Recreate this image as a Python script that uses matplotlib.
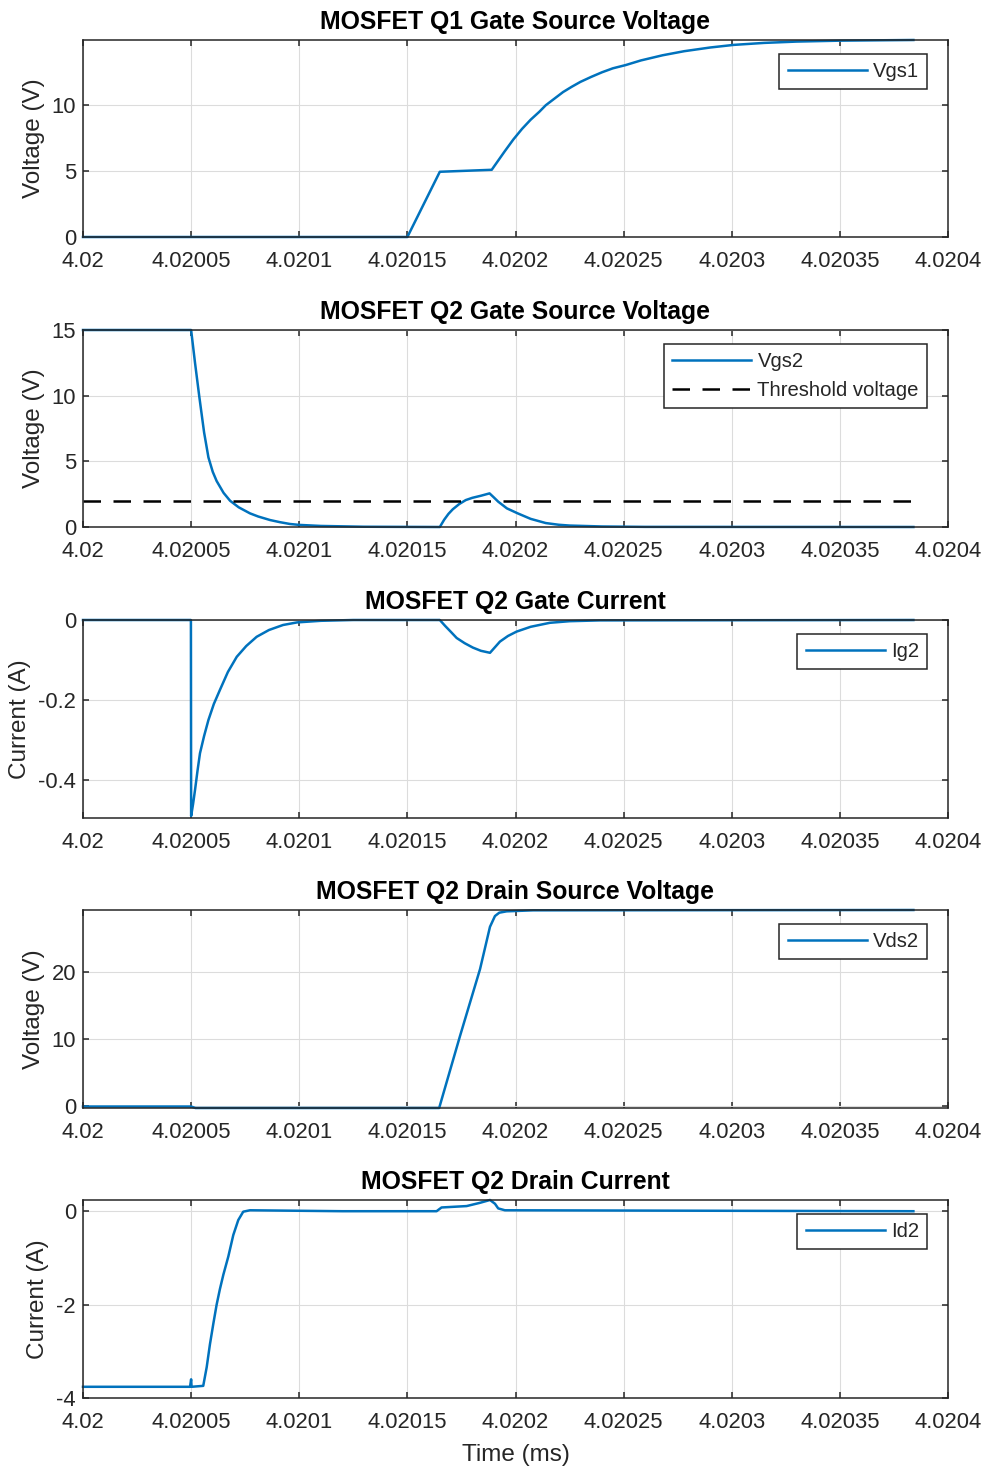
import matplotlib
matplotlib.use('Agg')
import matplotlib.pyplot as plt

# time axis (ms) and tick labels
x_ticks = [4.02, 4.02005, 4.0201, 4.02015, 4.0202, 4.02025, 4.0203, 4.02035, 4.0204]
x_tick_labels = ['4.02', '4.02005', '4.0201', '4.02015', '4.0202',
                 '4.02025', '4.0203', '4.02035', '4.0204']

# Q1 gate-source voltage
t_vgs1 = [4.02, 4.02015, 4.020165, 4.020189, 4.020192, 4.020195, 4.020199, 4.020203,
          4.020207, 4.020211, 4.020214, 4.020218, 4.020222, 4.020226, 4.02023,
          4.020235, 4.02024, 4.020245, 4.020251, 4.020258, 4.020268, 4.020278,
          4.02029, 4.020301, 4.020315, 4.02033, 4.02035, 4.02037, 4.020384]
vgs1 = [0, 0, 4.95, 5.1, 5.8, 6.5, 7.4, 8.2,
        8.9, 9.5, 10.0, 10.5, 11.0, 11.4, 11.77,
        12.15, 12.5, 12.8, 13.05, 13.4, 13.79, 14.1,
        14.38, 14.58, 14.73, 14.83, 14.9, 14.93, 14.95]

# Q2 gate-source voltage
t_vgs2 = [4.02, 4.02005, 4.0200518, 4.0200538, 4.020056, 4.020058, 4.02006, 4.0200618,
          4.020065, 4.020068, 4.020072, 4.0200772, 4.020081, 4.0200865, 4.020091,
          4.0200957, 4.0201, 4.02011, 4.02013, 4.020165,
          4.020167, 4.020169, 4.020171, 4.020174, 4.020177, 4.02018, 4.020184,
          4.020188, 4.02019, 4.020192, 4.020196, 4.020201, 4.020207, 4.020214,
          4.02022, 4.020225, 4.02024, 4.02026, 4.020384]
vgs2 = [15, 15, 12.5, 9.9, 7.2, 5.3, 4.2, 3.5,
        2.6, 2.0, 1.5, 1.04, 0.8, 0.53, 0.37,
        0.23, 0.16, 0.08, 0.02, 0,
        0.55, 1.0, 1.35, 1.75, 2.05, 2.22, 2.38,
        2.56, 2.25, 1.93, 1.42, 1.04, 0.62, 0.3,
        0.17, 0.11, 0.04, 0.01, 0]
v_threshold = 2.0

# Q2 gate current
t_ig2 = [4.02, 4.0200499, 4.02005, 4.0200509, 4.0200518, 4.020053, 4.0200541, 4.020056,
         4.020058, 4.0200605, 4.0200633, 4.020067, 4.0200711, 4.0200755, 4.0200803,
         4.020086, 4.0200925, 4.020099, 4.02011, 4.020125, 4.020165,
         4.0201675, 4.02017, 4.0201728, 4.0201765, 4.0201803, 4.020184, 4.0201882,
         4.020191, 4.0201928, 4.0201965, 4.0202005, 4.020207, 4.0202159, 4.020225,
         4.020239, 4.020384]
ig2 = [0, 0, -0.49, -0.46, -0.425, -0.375, -0.333, -0.29,
       -0.25, -0.21, -0.175, -0.13, -0.092, -0.065, -0.042,
       -0.025, -0.0125, -0.006, -0.002, 0, 0,
       -0.015, -0.029, -0.045, -0.058, -0.069, -0.077, -0.082,
       -0.065, -0.054, -0.04, -0.029, -0.017, -0.007, -0.003,
       -0.001, 0]

# Q2 drain-source voltage
t_vds2 = [4.02, 4.02005, 4.020052, 4.0201647, 4.0201743, 4.0201836, 4.0201882,
          4.0201905, 4.0201925, 4.0201959, 4.0202081, 4.020384]
vds2 = [-0.05, -0.05, -0.27, -0.27, 10.4, 20.4, 26.7,
        28.3, 28.8, 29.0, 29.15, 29.2]

# Q2 drain current
t_id2 = [4.02, 4.0200495, 4.02005, 4.0200502, 4.0200556, 4.0200572, 4.0200587,
         4.0200603, 4.0200618, 4.0200633, 4.0200649, 4.0200672, 4.0200695,
         4.0200718, 4.0200741, 4.0200772, 4.02012, 4.0201635, 4.0201658,
         4.0201774, 4.0201836, 4.0201882, 4.0201905, 4.0201920, 4.0201951, 4.020384]
id2 = [-3.76, -3.76, -3.6, -3.76, -3.74, -3.34, -2.85,
       -2.4, -2.0, -1.67, -1.36, -0.97, -0.51,
       -0.19, -0.01, 0.02, 0.0, 0.0, 0.08,
       0.11, 0.18, 0.24, 0.16, 0.06, 0.02, 0.0]

blue = '#0072BD'
text_col = '#262626'

plt.rcParams['font.family'] = ['Liberation Sans', 'DejaVu Sans']
plt.rcParams['font.size'] = 15.8

fig = plt.figure(figsize=(9.89, 14.7), dpi=100)
H = 1470.0


def make_axes(top_px, bottom_px):
    return fig.add_axes([83 / 989.0, 1 - bottom_px / H, 865 / 989.0, (bottom_px - top_px) / H])


def style_axes(ax, title, ylabel, yticks, ylabels, ylim):
    ax.set_xlim(4.02, 4.0204)
    ax.set_ylim(*ylim)
    ax.set_xticks(x_ticks)
    ax.set_xticklabels(x_tick_labels)
    ax.set_yticks(yticks)
    ax.set_yticklabels(ylabels)
    ax.grid(True, color='#dcdcdc', linewidth=0.8)
    ax.set_axisbelow(True)
    for s in ax.spines.values():
        s.set_color(text_col)
        s.set_linewidth(1.1)
    ax.tick_params(direction='in', length=4, width=1.1, colors=text_col,
                   top=True, right=True, labelsize=15.8)
    ax.tick_params(axis='x', pad=10)
    ax.tick_params(axis='y', pad=5)
    ax.set_title(title, fontsize=17.8, fontweight='bold', color='black', pad=8)
    ax.set_ylabel(ylabel, fontsize=17.5, color=text_col, labelpad=5)


def add_legend(ax):
    leg = ax.legend(loc='upper right', bbox_to_anchor=(0.9757, 0.929), fontsize=14.6,
                    handlelength=3.9, handletextpad=0.3, borderpad=0.4, labelspacing=0.5,
                    fancybox=False, framealpha=1, edgecolor=text_col, borderaxespad=0)
    leg.get_frame().set_linewidth(1.1)
    for txt in leg.get_texts():
        txt.set_color(text_col)
    return leg


lw = 1.8

ax1 = make_axes(40, 237)
ax1.plot(t_vgs1, vgs1, color=blue, lw=lw, label='Vgs1', clip_on=False)
style_axes(ax1, 'MOSFET Q1 Gate Source Voltage', 'Voltage (V)', [0, 5, 10], ['0', '5', '10'], (0, 14.95))
add_legend(ax1)

ax2 = make_axes(330, 527)
ax2.plot(t_vgs2, vgs2, color=blue, lw=lw, label='Vgs2', clip_on=False)
ax2.plot([t_vgs2[0], t_vgs2[-1]], [v_threshold, v_threshold], color='black', lw=lw,
         linestyle=(0, (7, 5)), label='Threshold voltage')
style_axes(ax2, 'MOSFET Q2 Gate Source Voltage', 'Voltage (V)', [0, 5, 10, 15],
           ['0', '5', '10', '15'], (0, 15))
add_legend(ax2)

ax3 = make_axes(620, 818)
ax3.plot(t_ig2, ig2, color=blue, lw=lw, label='Ig2', clip_on=False)
style_axes(ax3, 'MOSFET Q2 Gate Current', 'Current (A)', [-0.4, -0.2, 0],
           ['-0.4', '-0.2', '0'], (-0.495, 0))
add_legend(ax3)

ax4 = make_axes(910, 1108)
ax4.plot(t_vds2, vds2, color=blue, lw=lw, label='Vds2', clip_on=False)
style_axes(ax4, 'MOSFET Q2 Drain Source Voltage', 'Voltage (V)', [0, 10, 20],
           ['0', '10', '20'], (-0.27, 29.2))
add_legend(ax4)

ax5 = make_axes(1200, 1398)
ax5.plot(t_id2, id2, color=blue, lw=lw, label='Id2', clip_on=False)
style_axes(ax5, 'MOSFET Q2 Drain Current', 'Current (A)', [-4, -2, 0],
           ['-4', '-2', '0'], (-4, 0.24))
add_legend(ax5)
ax5.set_xlabel('Time (ms)', fontsize=17.5, color=text_col, labelpad=8)

fig.savefig('out.png', dpi=100, facecolor='white')
